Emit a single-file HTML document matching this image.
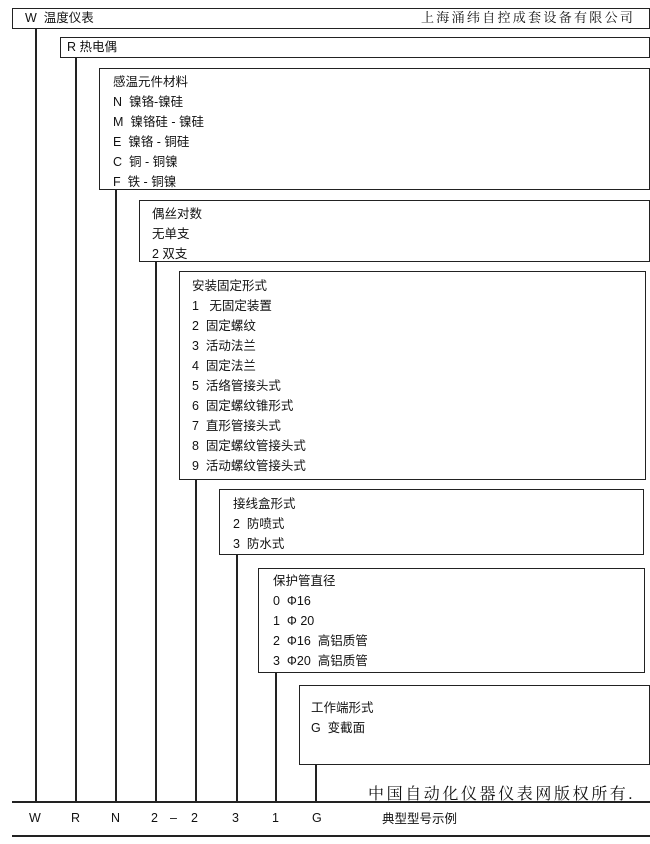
<!DOCTYPE html>
<html><head><meta charset="utf-8"><style>
body{margin:0;width:650px;height:844px;background:#fff;position:relative;overflow:hidden;font-family:"Liberation Sans","Noto Sans CJK SC",sans-serif;font-size:12.5px;color:#111}
.b{position:absolute;border:1.5px solid #222;box-sizing:border-box;background:#fff}
.v{position:absolute;width:1.5px;background:#222}
.h{position:absolute;height:1.5px;background:#222}
.t{position:absolute;white-space:nowrap;line-height:14px}
</style></head><body>
<div class="v" style="left:35px;top:28px;height:774px"></div>
<div class="v" style="left:75px;top:56px;height:746px"></div>
<div class="v" style="left:115px;top:189px;height:613px"></div>
<div class="v" style="left:155px;top:261px;height:541px"></div>
<div class="v" style="left:195px;top:478px;height:324px"></div>
<div class="v" style="left:236px;top:554px;height:248px"></div>
<div class="v" style="left:275px;top:672px;height:130px"></div>
<div class="v" style="left:315px;top:764px;height:38px"></div>

<div class="b" style="left:12px;top:8px;width:638px;height:21px"></div>
<div class="t" style="left:25px;top:11px">W&nbsp;&nbsp;温度仪表</div>
<div class="t" style="left:421px;top:11px;font-size:13px;font-family:'Liberation Serif','Noto Serif CJK SC',serif;letter-spacing:2.3px">上海涌纬自控成套设备有限公司</div>

<div class="b" style="left:60px;top:37px;width:590px;height:21px"></div>
<div class="t" style="left:67px;top:40px">R&nbsp;热电偶</div>

<div class="b" style="left:99px;top:68px;width:551px;height:122px"></div>
<div class="t" style="left:113px;top:75px">感温元件材料</div>
<div class="t" style="left:113px;top:95px">N&nbsp;&nbsp;镍铬-镍硅</div>
<div class="t" style="left:113px;top:115px">M&nbsp;&nbsp;镍铬硅 - 镍硅</div>
<div class="t" style="left:113px;top:135px">E&nbsp;&nbsp;镍铬 - 铜硅</div>
<div class="t" style="left:113px;top:155px">C&nbsp;&nbsp;铜 - 铜镍</div>
<div class="t" style="left:113px;top:175px">F&nbsp;&nbsp;铁 - 铜镍</div>

<div class="b" style="left:139px;top:200px;width:511px;height:62px"></div>
<div class="t" style="left:152px;top:207px">偶丝对数</div>
<div class="t" style="left:152px;top:227px">无单支</div>
<div class="t" style="left:152px;top:247px">2 双支</div>

<div class="b" style="left:179px;top:271px;width:467px;height:209px"></div>
<div class="t" style="left:192px;top:279px">安装固定形式</div>
<div class="t" style="left:192px;top:299px">1&nbsp;&nbsp;&nbsp;无固定装置</div>
<div class="t" style="left:192px;top:319px">2&nbsp;&nbsp;固定螺纹</div>
<div class="t" style="left:192px;top:339px">3&nbsp;&nbsp;活动法兰</div>
<div class="t" style="left:192px;top:359px">4&nbsp;&nbsp;固定法兰</div>
<div class="t" style="left:192px;top:379px">5&nbsp;&nbsp;活络管接头式</div>
<div class="t" style="left:192px;top:399px">6&nbsp;&nbsp;固定螺纹锥形式</div>
<div class="t" style="left:192px;top:419px">7&nbsp;&nbsp;直形管接头式</div>
<div class="t" style="left:192px;top:439px">8&nbsp;&nbsp;固定螺纹管接头式</div>
<div class="t" style="left:192px;top:459px">9&nbsp;&nbsp;活动螺纹管接头式</div>

<div class="b" style="left:219px;top:489px;width:425px;height:66px"></div>
<div class="t" style="left:233px;top:497px">接线盒形式</div>
<div class="t" style="left:233px;top:517px">2&nbsp;&nbsp;防喷式</div>
<div class="t" style="left:233px;top:537px">3&nbsp;&nbsp;防水式</div>

<div class="b" style="left:258px;top:568px;width:387px;height:105px"></div>
<div class="t" style="left:273px;top:574px">保护管直径</div>
<div class="t" style="left:273px;top:594px">0&nbsp;&nbsp;Φ16</div>
<div class="t" style="left:273px;top:614px">1&nbsp;&nbsp;Φ 20</div>
<div class="t" style="left:273px;top:634px">2&nbsp;&nbsp;Φ16&nbsp;&nbsp;高铝质管</div>
<div class="t" style="left:273px;top:654px">3&nbsp;&nbsp;Φ20&nbsp;&nbsp;高铝质管</div>

<div class="b" style="left:299px;top:685px;width:351px;height:80px"></div>
<div class="t" style="left:311px;top:701px">工作端形式</div>
<div class="t" style="left:311px;top:721px">G&nbsp;&nbsp;变截面</div>

<div class="t" style="left:368px;top:786px;font-size:16px;line-height:17px;font-family:'Liberation Serif','Noto Serif CJK SC',serif;letter-spacing:2.6px">中国自动化仪器仪表网版权所有.</div>
<div class="h" style="left:12px;top:801px;width:638px"></div>
<div class="t" style="left:29px;top:811px">W</div>
<div class="t" style="left:71px;top:811px">R</div>
<div class="t" style="left:111px;top:811px">N</div>
<div class="t" style="left:151px;top:811px">2</div>
<div class="t" style="left:170px;top:811px">–</div>
<div class="t" style="left:191px;top:811px">2</div>
<div class="t" style="left:232px;top:811px">3</div>
<div class="t" style="left:272px;top:811px">1</div>
<div class="t" style="left:312px;top:811px">G</div>
<div class="t" style="left:382px;top:812px">典型型号示例</div>
<div class="h" style="left:12px;top:835px;width:638px"></div>
</body></html>
